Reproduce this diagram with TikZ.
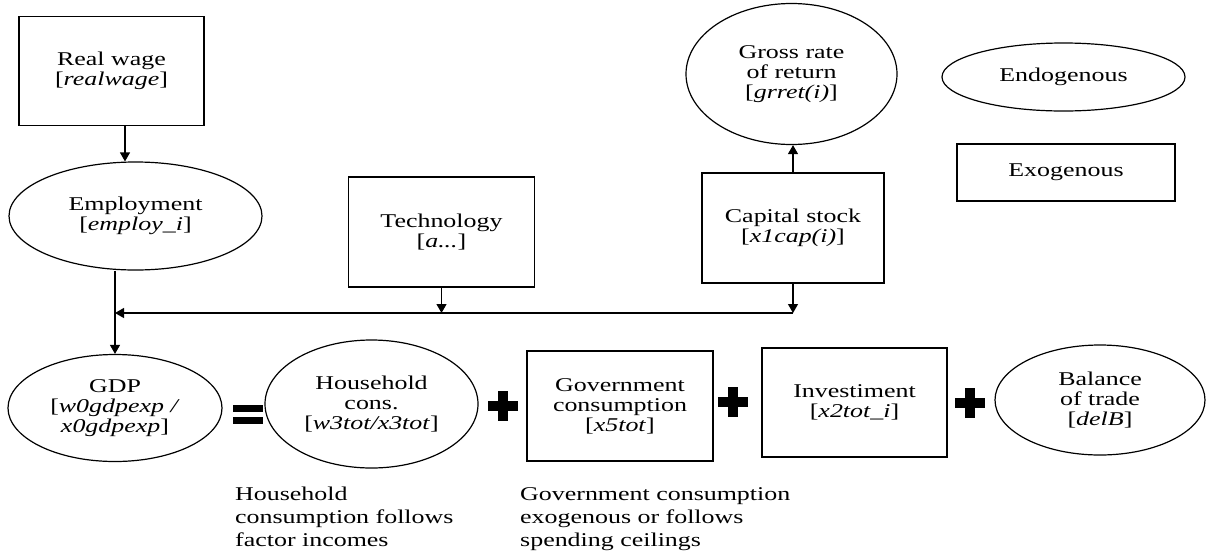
\documentclass[tikz,border=0pt]{standalone}
\usepackage{fontspec}
\setmainfont{Liberation Serif}[FakeStretch=1.33]
\usetikzlibrary{shapes.geometric, arrows.meta, calc}

\tikzset{
  exobox/.style={draw, line width=1.2pt, rectangle, align=center, inner sep=0pt},
  endoell/.style={draw, line width=1.2pt, ellipse, align=center, inner sep=0pt},
  flow/.style={line width=1.2pt, -{Triangle[width=10pt,length=9pt]}},
  note/.style={align=left, anchor=north west, inner sep=0pt,
    font=\fontsize{19.5}{23}\selectfont}
}

\begin{document}
\begin{tikzpicture}[x=1pt, y=-1pt, font=\fontsize{19.5}{20}\selectfont]
\useasboundingbox (0,0) rectangle (1210,555);
% Top row: wage, employment, technology, capital
\node[exobox, minimum width=185pt, minimum height=109pt] (wage) at (111.5,71) {Real wage\\{}[\textit{realwage}]};
\node[endoell, minimum width=253pt, minimum height=108pt] (emp) at (135.5,216) {Employment\\{}[\textit{employ\_i}]};
\node[exobox, minimum width=186pt, minimum height=110pt] (tech) at (441.5,232) {Technology\\{}[\textit{a...}]};
\node[exobox, minimum width=182pt, minimum height=110pt] (cap) at (793,228) {Capital stock\\{}[\textit{x1cap(i)}]};
\node[endoell, minimum width=211pt, minimum height=141pt] (grret) at (791.5,74) {Gross rate\\of return\\{}[\textit{grret(i)}]};
% Legend
\node[endoell, minimum width=243pt, minimum height=68pt] (endo) at (1063.5,77) {Endogenous};
\node[exobox, minimum width=218pt, minimum height=57pt] (exo) at (1066,172.5) {Exogenous};
% Bottom row: GDP identity
\node[endoell, minimum width=214pt, minimum height=107pt] (gdp) at (115,408) {GDP\\{}[\textit{w0gdpexp /}\\\textit{x0gdpexp}]};
\node[endoell, minimum width=213pt, minimum height=128pt] (hou) at (371.5,404) {Household\\cons.\\{}[\textit{w3tot/x3tot}]};
\node[exobox, minimum width=186pt, minimum height=110pt] (gov) at (620,406) {Government\\consumption\\{}[\textit{x5tot}]};
\node[exobox, minimum width=185pt, minimum height=109pt] (inv) at (854.5,402.5) {Investiment\\{}[\textit{x2tot\_i}]};
\node[endoell, minimum width=210pt, minimum height=110pt] (bal) at (1100,400) {Balance\\of trade\\{}[\textit{delB}]};
% Equals and plus signs
\fill (233,405) rectangle (263,412);
\fill (233,417) rectangle (263,424);
\foreach \px/\py in {503/406, 733/402, 970/403} {
  \fill (\px-15,\py-5) rectangle (\px+15,\py+5);
  \fill (\px-5,\py-15) rectangle (\px+5,\py+15);
}
% Notes under the bottom row
\node[note] (hounote) at (235,487) {Household\\consumption follows\\factor incomes};
\node[note] (govnote) at (520,487) {Government consumption\\exogenous or follows\\spending ceilings};
% Connectors
\coordinate (wagefoot) at ([xshift=13.5pt]wage.south);
\draw[flow] (wagefoot) -- (wagefoot |- emp.north);
\draw[flow] (cap.north) -- (cap.north |- grret.south);
\coordinate (merge) at (gdp.north |- 0,313);
\coordinate (corner) at (cap.south |- merge);
\draw[flow] (cap.south) -- (corner);
\draw[flow] (tech.south) -- (tech.south |- merge);
\draw[flow] (corner) -- (merge);
\draw[flow] (gdp.north |- emp.south) -- (gdp.north);
\end{tikzpicture}
\end{document}
